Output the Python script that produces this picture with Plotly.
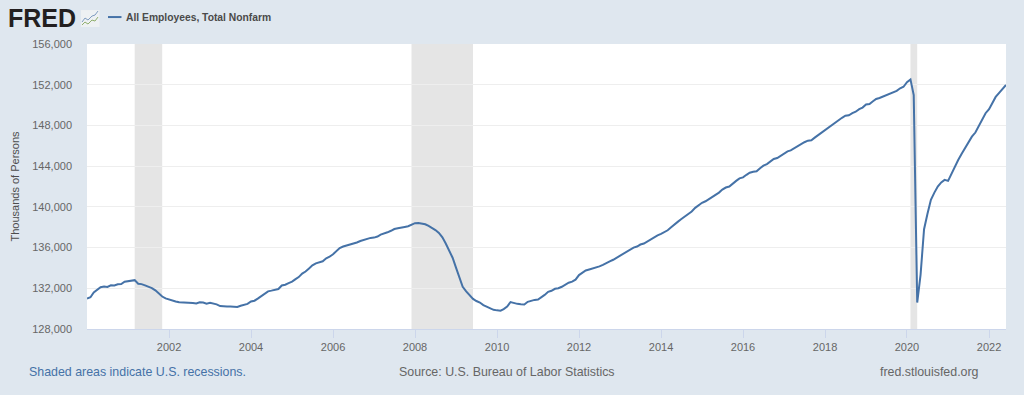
import plotly.graph_objects as go
import pandas as pd

series_name = "All Employees, Total Nonfarm"
y2000 = [131000,131120,131590,131880,132100,132170,132130,132290,132280,132400,132420,132640]
y2001 = [132720,132780,132800,132450,132410,132290,132170,132020,131800,131480,131190,131010]
y2002 = [130890,130760,130710,130620,130600,130640,130570,130560,130500,130620,130600,130490]
y2003 = [130570,130490,130420,130250,130210,130210,130220,130190,130170,130290,130400,130470]
y2004 = [130700,130780,130990,131240,131520,131700,131770,131840,131930,132280,132350,132500]
y2005 = [132650,132900,133100,133450,133650,133950,134250,134450,134550,134650,134950,135100]
y2006 = [135350,135650,135950,136100,136200,136250,136350,136500,136650,136750,136900,136950]
y2007 = [136980,137080,137270,137350,137500,137650,137820,137900,138000,138030,138100,138230]
y2008 = [138400,138420,138340,138290,138130,137950,137720,137440,137000,136400,135700,135000]
y2009 = [134000,133100,132150,131700,131350,130950,130750,130600,130350,130200,130100,129880]
y2010 = [129830,129800,129950,130200,130650,130530,130470,130430,130400,130670,130790,130860]
y2011 = [130900,131100,131350,131650,131750,131950,132000,132150,132350,132550,132650,132850]
y2012 = [133300,133550,133750,133850,133950,134000,134150,134300,134500,134650,134800,135000]
y2013 = [135200,135450,135600,135800,136000,136100,136300,136400,136600,136850,137050,137200]
y2014 = [137350,137500,137700,138000,138300,138550,138800,139050,139300,139550,139900,140150]
y2015 = [140400,140550,140750,140950,141250,141400,141700,141900,142000,142300,142550,142800]
y2016 = [142900,143150,143350,143450,143500,143800,144050,144200,144450,144700,144800,145000]
y2017 = [145250,145450,145550,145750,145950,146200,146350,146500,146550,146800,147050,147300]
y2018 = [147550,147850,148050,148250,148500,148750,148950,149000,149200,149350,149600,149750]
y2019 = [150050,150100,150350,150600,150700,150850,150950,151100,151250,151400,151650,151800]
y2020 = [152250,152520,150980,130600,133350,137800,139300,140700,141400,142000,142400,142650]
y2021 = [142550,143300,144000,144600,145200,145800,146400,146900,147300,147900,148500,149200]
y2022 = [149600,150300,150800,151200,151600,151980]

values = (y2000+y2001+y2002+y2003+y2004+y2005+y2006+y2007+y2008+y2009+y2010+
          y2011+y2012+y2013+y2014+y2015+y2016+y2017+y2018+y2019+y2020+y2021+y2022)
dates = pd.date_range("2000-01-01", periods=len(values), freq="MS")

recessions = [("2001-03-01","2001-11-01"),("2007-12-01","2009-06-01"),("2020-02-01","2020-04-01")]
y_ticks = [128000,132000,136000,140000,144000,148000,152000,156000]
x_ticks = ["2002-01-01","2004-01-01","2006-01-01","2008-01-01","2010-01-01","2012-01-01",
           "2014-01-01","2016-01-01","2018-01-01","2020-01-01","2022-01-01"]
x_labels = ["2002","2004","2006","2008","2010","2012","2014","2016","2018","2020","2022"]

W, H = 1024, 395
L, R, T, B = 87, 1006.5, 44, 329.5
FONT = "Liberation Sans"
BG = "#dfe7ef"
LINE = "#4572a7"

def px(x): return (x - L) / (R - L)
def py(y): return (B - y) / (B - T)

fig = go.Figure(go.Scatter(x=dates, y=values, mode="lines", name=series_name,
                           line=dict(color=LINE, width=2), showlegend=False))

shapes = [dict(type="rect", xref="x", yref="paper", x0=a, x1=b, y0=0, y1=1,
               fillcolor="#e5e5e5", line_width=0, layer="below") for a, b in recessions]
# legend sample
shapes.append(dict(type="line", xref="paper", yref="paper", x0=px(108), x1=px(121.5), y0=py(17), y1=py(17),
                   line=dict(color=LINE, width=2)))
# logo icon
shapes.append(dict(type="rect", xref="paper", yref="paper", x0=px(81), x1=px(99.5), y0=py(10), y1=py(27),
                   fillcolor="#eef1f3", line_width=0))
def poly(pts, color):
    p = "M " + " L ".join(f"{px(a)},{py(b)}" for a, b in pts)
    return dict(type="path", xref="paper", yref="paper", path=p, line=dict(color=color, width=1))
shapes.append(poly([(82,22),(85,18),(88,20),(92,16),(95,15),(98,11)], "#7f9cc0"))
shapes.append(poly([(82,25),(85,22),(88,24),(92,20),(95,21),(98,17)], "#8fae6b"))

def note(x, y, text, size, color, anchor="left", **kw):
    return dict(xref="paper", yref="paper", x=px(x), y=py(y), text=text, showarrow=False,
                xanchor=anchor, yanchor="middle", xshift=0,
                font=dict(family=FONT, size=size, color=color), **kw)

annotations = [
    note(6, 18, "<b>FRED</b>", 25, "#231f20"),
    note(124, 17.5, "<b>" + series_name + "</b>", 10.3, "#4a4a4a"),
    note(27, 373, "Shaded areas indicate U.S. recessions.", 12.4, LINE),
    note(507, 373, "Source: U.S. Bureau of Labor Statistics", 12.4, "#666666", anchor="center"),
    note(981, 373, "fred.stlouisfed.org", 12.4, "#666666", anchor="right"),
]

fig.update_layout(
    width=W, height=H, autosize=False,
    margin=dict(l=L, r=W-R, t=T, b=H-B, pad=0),
    paper_bgcolor=BG, plot_bgcolor="#ffffff",
    font=dict(family=FONT, color="#666666", size=11),
    shapes=shapes, annotations=annotations, hovermode=False,
    xaxis=dict(type="date", range=[dates[0], dates[-1]], tickvals=x_ticks, ticktext=x_labels,
               showgrid=False, ticks="outside", ticklen=8, tickcolor="#ccd6eb", tickwidth=1,
               showline=True, linecolor="#ccd6eb", linewidth=1, zeroline=False,
               tickfont=dict(family=FONT, size=11, color="#666666")),
    yaxis=dict(range=[128000,156000], tickvals=y_ticks, tickformat=",d",
               showgrid=True, gridcolor="#eeeeee", gridwidth=1, zeroline=False, showline=False,
               ticks="", ticklabelstandoff=14,
               tickfont=dict(family=FONT, size=11, color="#666666"),
               title=dict(text="Thousands of Persons", standoff=10,
                          font=dict(family=FONT, size=11, color="#4d4d4d"))),
)
fig.write_html("out.html", config={"displayModeBar": False},
               post_script="document.body.style.margin='0';document.documentElement.style.overflow='hidden';")
